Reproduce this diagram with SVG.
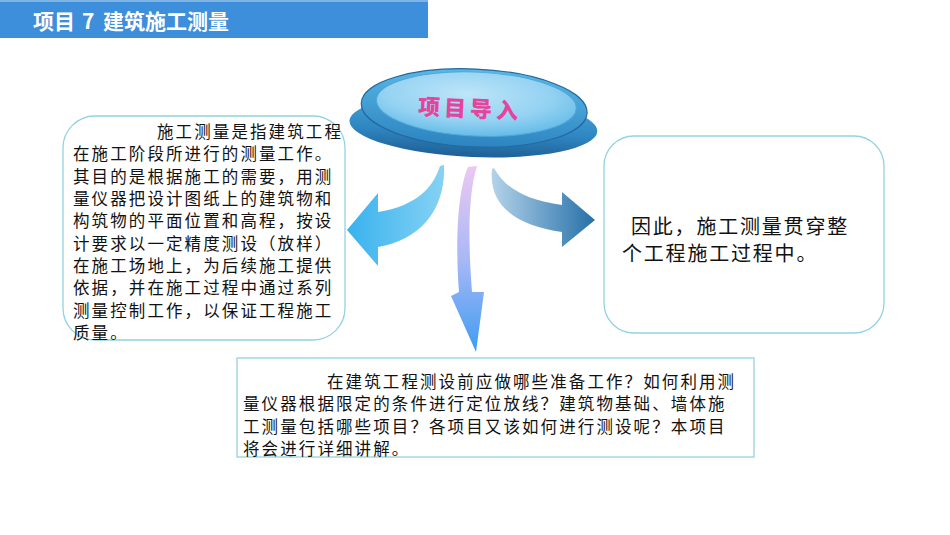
<svg xmlns="http://www.w3.org/2000/svg" width="950" height="535" viewBox="0 0 950 535">
<defs>
<style>
.body{font-family:"Noto Sans CJK SC","Noto Sans",sans-serif;font-size:16.5px;letter-spacing:2.1px;fill:#111;}
.rt{font-family:"Noto Sans CJK SC","Noto Sans",sans-serif;font-size:20px;letter-spacing:1.8px;fill:#111;}
.box{fill:#fff;stroke:#93d2e2;stroke-width:1.3;}
</style>
<linearGradient id="gL" x1="0" y1="0" x2="1" y2="0">
<stop offset="0" stop-color="#38b2ee"/><stop offset="1" stop-color="#86d2f4"/>
</linearGradient>
<linearGradient id="gR" x1="0" y1="0" x2="1" y2="0">
<stop offset="0" stop-color="#b4d3ea"/><stop offset="1" stop-color="#2670a8"/>
</linearGradient>
<linearGradient id="gM" x1="0" y1="0" x2="0" y2="1">
<stop offset="0" stop-color="#ecc8f2"/><stop offset="0.5" stop-color="#a9b8f6"/><stop offset="1" stop-color="#3f9cf2"/>
</linearGradient>
<linearGradient id="gBase" x1="0" y1="0" x2="0" y2="1">
<stop offset="0" stop-color="#4aa6d8"/><stop offset="0.6" stop-color="#2f86c2"/><stop offset="1" stop-color="#1f5f96"/>
</linearGradient>
<linearGradient id="gRing" x1="0" y1="0" x2="0" y2="1">
<stop offset="0" stop-color="#5ab8e6"/><stop offset="1" stop-color="#2c84c0"/>
</linearGradient>
<radialGradient id="gTop" cx="0.45" cy="0.35" r="0.7">
<stop offset="0" stop-color="#bde5f9"/><stop offset="0.6" stop-color="#94d2f2"/><stop offset="1" stop-color="#5cb8e6"/>
</radialGradient>
</defs>
<rect x="0" y="0" width="950" height="535" fill="#fff"/>

<g id="header">
<rect x="0" y="0" width="428" height="38" fill="#3d8edb"/>
<rect x="0" y="0" width="428" height="2" fill="#7fb3e3"/>
<text xml:space="preserve" x="33" y="29" font-family="'Noto Sans CJK SC','Noto Sans',sans-serif" font-size="21" font-weight="bold" fill="#fff">项目 <tspan x="82">7 </tspan><tspan x="103">建筑施工测量</tspan></text>
</g>

<g id="connectors">
<path d="M440,166 C433,188 416,206 378,212 L378,193 L347,230 L378,266 L378,247 C420,240 446,210 444,165 Z" fill="url(#gL)"/>
<path d="M494,168 C505,188 525,200 562,205 L562,192 L595,220 L562,247 L562,232 C520,226 488,208 492,169 Z" fill="url(#gR)"/>
<path d="M468,167 C458,190 455,240 459,292 L451,296 L476,352 L484,292 L472,292 C468,240 468,195 477,166 Z" fill="url(#gM)"/>
</g>

<g id="intro" transform="rotate(2.5 474 112)">
<ellipse cx="474" cy="126" rx="124" ry="31" fill="url(#gBase)"/>
<ellipse cx="474" cy="108" rx="113" ry="39" fill="url(#gRing)" stroke="#23699f" stroke-width="1.2"/>
<ellipse cx="476" cy="104" rx="100" ry="32" fill="url(#gTop)" stroke="#4fa7d8" stroke-width="1"/>
<text x="470" y="117" text-anchor="middle" font-family="'Noto Sans CJK SC',sans-serif" font-size="22" font-weight="900" letter-spacing="4" fill="#e5449c">项目导入</text>
</g>

<g id="left-box">
<rect class="box" x="63" y="116" width="282" height="224" rx="32"/>
<text class="body">
<tspan x="157" y="138">施工测量是指建筑工程</tspan>
<tspan x="73" y="160.3">在施工阶段所进行的测量工作。</tspan>
<tspan x="73" y="182.7">其目的是根据施工的需要，用测</tspan>
<tspan x="73" y="205">量仪器把设计图纸上的建筑物和</tspan>
<tspan x="73" y="227.3">构筑物的平面位置和高程，按设</tspan>
<tspan x="73" y="249.7">计要求以一定精度测设（放样）</tspan>
<tspan x="73" y="272">在施工场地上，为后续施工提供</tspan>
<tspan x="73" y="294.3">依据，并在施工过程中通过系列</tspan>
<tspan x="73" y="316.7">测量控制工作，以保证工程施工</tspan>
<tspan x="73" y="339">质量。</tspan>
</text>
</g>

<g id="right-box">
<rect class="box" x="604" y="136" width="280" height="197" rx="30"/>
<text class="rt">
<tspan x="631" y="234">因此，施工测量贯穿整</tspan>
<tspan x="622" y="261">个工程施工过程中。</tspan>
</text>
</g>

<g id="bottom-box">
<rect class="box" x="237" y="358" width="517" height="99" stroke="#8ecbe0"/>
<text class="body">
<tspan x="327" y="388">在建筑工程测设前应做哪些准备工作？如何利用测</tspan>
<tspan x="243" y="410.3">量仪器根据限定的条件进行定位放线？建筑物基础、墙体施</tspan>
<tspan x="243" y="432.7">工测量包括哪些项目？各项目又该如何进行测设呢？本项目</tspan>
<tspan x="243" y="455">将会进行详细讲解。</tspan>
</text>
</g>
</svg>
